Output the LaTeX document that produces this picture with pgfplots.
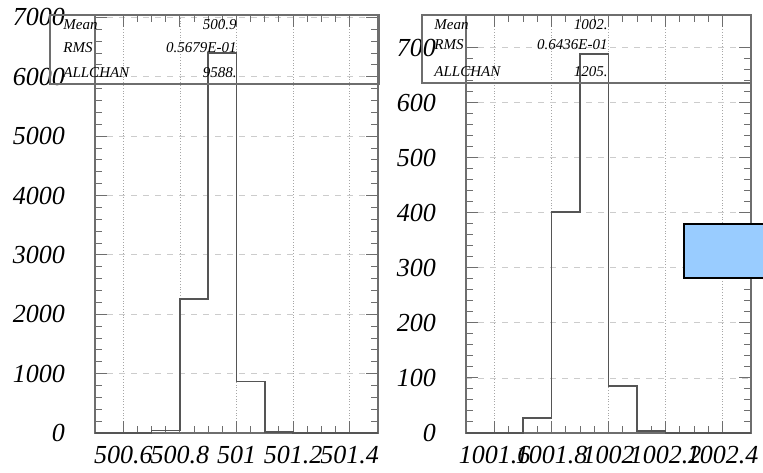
\documentclass[border=0pt]{standalone}
\usepackage{fontspec}
\setmainfont{Liberation Serif}
\usepackage{pgfplots}
\pgfplotsset{compat=1.18}

\definecolor{histcol}{RGB}{85,85,85}
\definecolor{framegray}{RGB}{110,110,110}
\definecolor{statblue}{RGB}{153,204,255}

\pgfplotsset{
  histax/.style={
    scale only axis, anchor=south west,
    axis line style={framegray, line width=0.6pt},
    tick align=inside,
    major tick length=6pt, minor tick length=3.5pt,
    tick style={framegray, line width=0.5pt},
    xmajorgrids, ymajorgrids,
    x grid style={densely dotted, gray!70},
    y grid style={dashed, gray!40},
    ticklabel style={font=\fontsize{13}{13}\selectfont\itshape},
    xticklabel style={yshift=-3pt},
    yticklabel style={xshift=-11.5pt},
    minor x tick num=3, minor y tick num=4,
    ymin=0,
  },
  histstep/.style={const plot, draw=histcol, line width=0.8pt, mark=none},
}

\newcommand{\statfont}{\fontsize{7.5}{7.5}\selectfont\itshape}

\begin{document}
\begin{tikzpicture}
\path[use as bounding box] (0,0) rectangle (381.5pt,236pt);

% left histogram
\begin{axis}[histax,
  at={(47.5pt,19.5pt)}, width=141.5pt, height=209pt,
  xmin=500.5, xmax=501.5, ymax=7040,
  xtick={500.6,500.8,501,501.2,501.4},
  xticklabels={500.6,500.8,501,501.2,501.4},
  ytick={0,1000,2000,3000,4000,5000,6000,7000},
  yticklabels={0,1000,2000,3000,4000,5000,6000,7000},
]
\addplot[histstep] coordinates {
  (500.5,0) (500.7,45) (500.8,2260) (500.9,6400) (501.0,870) (501.1,13) (501.2,0) (501.5,0)
};
\end{axis}

% right histogram
\begin{axis}[histax,
  at={(233pt,19.5pt)}, width=142.5pt, height=209pt,
  xmin=1001.5, xmax=1002.5, ymax=759,
  xtick={1001.6,1001.8,1002,1002.2,1002.4},
  xticklabels={1001.6,1001.8,1002,1002.2,1002.4},
  ytick={0,100,200,300,400,500,600,700},
  yticklabels={0,100,200,300,400,500,600,700},
]
\addplot[histstep] coordinates {
  (1001.5,0) (1001.7,27) (1001.8,401) (1001.9,688) (1002.0,85) (1002.1,4) (1002.2,0) (1002.5,0)
};
\end{axis}

% statistics boxes
\draw[framegray, line width=0.6pt] (25pt,194pt) rectangle (189.5pt,228.5pt);
\node[anchor=west, inner sep=0pt] at (31.5pt,223.5pt) {\statfont Mean};
\node[anchor=west, inner sep=0pt] at (31.5pt,212pt) {\statfont RMS};
\node[anchor=west, inner sep=0pt] at (31.5pt,199.5pt) {\statfont ALLCHAN};
\node[anchor=east, inner sep=0pt] at (118.5pt,223.5pt) {\statfont 500.9};
\node[anchor=east, inner sep=0pt] at (118.5pt,212pt) {\statfont 0.5679E-01};
\node[anchor=east, inner sep=0pt] at (118.5pt,199.5pt) {\statfont 9588.};

\draw[framegray, line width=0.6pt] (211pt,194.5pt) rectangle (375.5pt,228.5pt);
\node[anchor=west, inner sep=0pt] at (217pt,223.5pt) {\statfont Mean};
\node[anchor=west, inner sep=0pt] at (217pt,213.5pt) {\statfont RMS};
\node[anchor=west, inner sep=0pt] at (217pt,200pt) {\statfont ALLCHAN};
\node[anchor=east, inner sep=0pt] at (304pt,223.5pt) {\statfont 1002.};
\node[anchor=east, inner sep=0pt] at (304pt,213.5pt) {\statfont 0.6436E-01};
\node[anchor=east, inner sep=0pt] at (304pt,200pt) {\statfont 1205.};

% blue box at right edge
\draw[fill=statblue, draw=black, line width=0.7pt] (342pt,97pt) rectangle (390pt,124pt);
\end{tikzpicture}
\end{document}
